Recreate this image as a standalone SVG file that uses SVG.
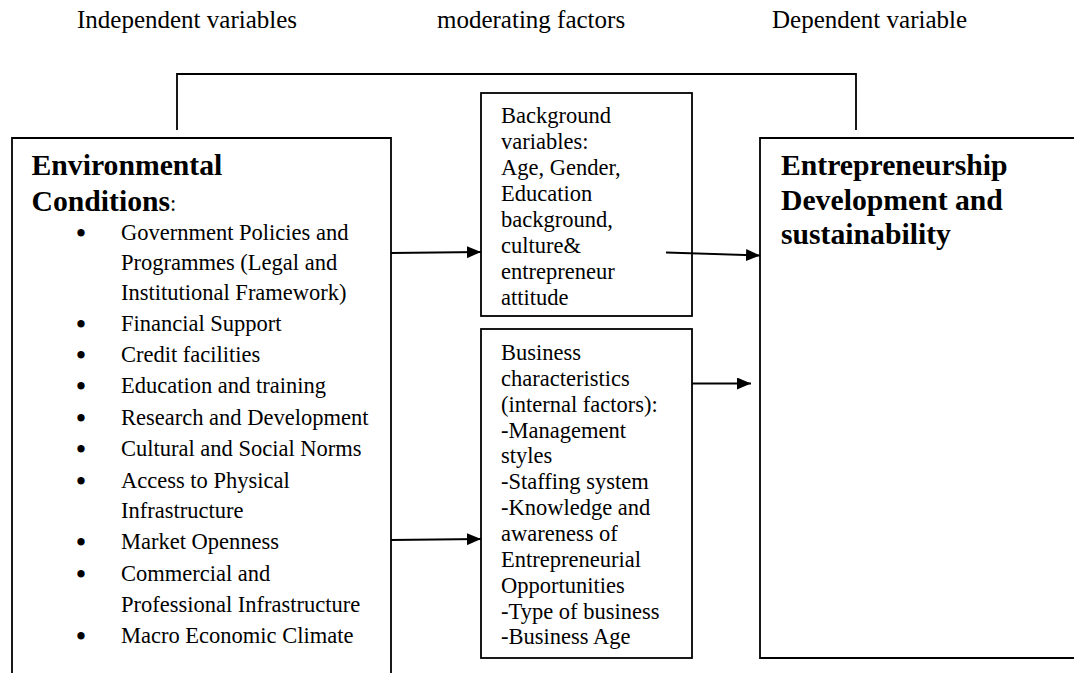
<svg xmlns="http://www.w3.org/2000/svg" width="1074" height="673" viewBox="0 0 1074 673">
<style>
text{font-family:"Liberation Serif","Times New Roman",serif;fill:#000}
.hdr{font-size:25px}
.big{font-size:29.7px;font-weight:bold}
.t{font-size:22.5px}
.b{font-size:27px;font-weight:bold;text-anchor:middle}
.box{fill:#fff;stroke:#000;stroke-width:1.8}
.ln{fill:none;stroke:#000;stroke-width:1.8}
</style>
<defs>
<marker id="ah" viewBox="0 0 14 12" refX="14" refY="6" markerWidth="14" markerHeight="12" markerUnits="userSpaceOnUse" orient="auto">
<path d="M0,0 L14,6 L0,12 Z" fill="#000"/>
</marker>
</defs>
<rect width="1074" height="673" fill="#fff"/>
<g id="headers">
<text class="hdr" x="77" y="28">Independent variables</text>
<text class="hdr" x="437" y="28">moderating factors</text>
<text class="hdr" x="772" y="28">Dependent variable</text>
</g>
<g id="env">
<path class="box" d="M12,680 V138 H391 V680"/>
<text class="big" x="31.5" y="175">Environmental</text>
<text x="31.5" y="211"><tspan class="big">Conditions</tspan><tspan class="t">:</tspan></text>
<g class="t">
<text class="b" x="81" y="242">•</text><text x="121" y="240">Government Policies and</text>
<text x="121" y="270">Programmes (Legal and</text>
<text x="121" y="300">Institutional Framework)</text>
<text class="b" x="81" y="333">•</text><text x="121" y="331">Financial Support</text>
<text class="b" x="81" y="364">•</text><text x="121" y="362">Credit facilities</text>
<text class="b" x="81" y="395">•</text><text x="121" y="393">Education and training</text>
<text class="b" x="81" y="427">•</text><text x="121" y="425">Research and Development</text>
<text class="b" x="81" y="458">•</text><text x="121" y="456">Cultural and Social Norms</text>
<text class="b" x="81" y="490">•</text><text x="121" y="488">Access to Physical</text>
<text x="121" y="518">Infrastructure</text>
<text class="b" x="81" y="551">•</text><text x="121" y="549">Market Openness</text>
<text class="b" x="81" y="583">•</text><text x="121" y="581">Commercial and</text>
<text x="121" y="612">Professional Infrastructure</text>
<text class="b" x="81" y="645">•</text><text x="121" y="643">Macro Economic Climate</text>
</g>
</g>
<g id="background">
<rect class="box" x="481" y="93" width="211" height="223"/>
<g class="t">
<text x="501" y="123.3">Background</text>
<text x="501" y="149.2">variables:</text>
<text x="501" y="175.1">Age, Gender,</text>
<text x="501" y="201">Education</text>
<text x="501" y="226.9">background,</text>
<text x="501" y="252.8">culture&amp;</text>
<text x="501" y="278.7">entrepreneur</text>
<text x="501" y="304.6">attitude</text>
</g>
</g>
<g id="business">
<rect class="box" x="481" y="329" width="211" height="329"/>
<g class="t">
<text x="501" y="360">Business</text>
<text x="501" y="385.9">characteristics</text>
<text x="501" y="411.7">(internal factors):</text>
<text x="501" y="437.6">-Management</text>
<text x="501" y="463.4">styles</text>
<text x="501" y="489.3">-Staffing system</text>
<text x="501" y="515.1">-Knowledge and</text>
<text x="501" y="541">awareness of</text>
<text x="501" y="566.8">Entrepreneurial</text>
<text x="501" y="592.7">Opportunities</text>
<text x="501" y="618.5">-Type of business</text>
<text x="501" y="644.4">-Business Age</text>
</g>
</g>
<g id="outcome">
<path class="box" d="M1080,138 H760 V658 H1080"/>
<text class="big" x="781" y="175">Entrepreneurship</text>
<text class="big" x="781" y="210">Development and</text>
<text class="big" x="781" y="244">sustainability</text>
</g>
<g id="connectors">
<path class="ln" d="M177,130 V74 H856 V130"/>
<line class="ln" x1="391" y1="253" x2="481" y2="252" marker-end="url(#ah)"/>
<line class="ln" x1="666" y1="252.5" x2="760" y2="255.5" marker-end="url(#ah)"/>
<line class="ln" x1="692" y1="383.5" x2="751" y2="383.5" marker-end="url(#ah)"/>
<line class="ln" x1="391" y1="540" x2="481" y2="539" marker-end="url(#ah)"/>
</g>
</svg>
